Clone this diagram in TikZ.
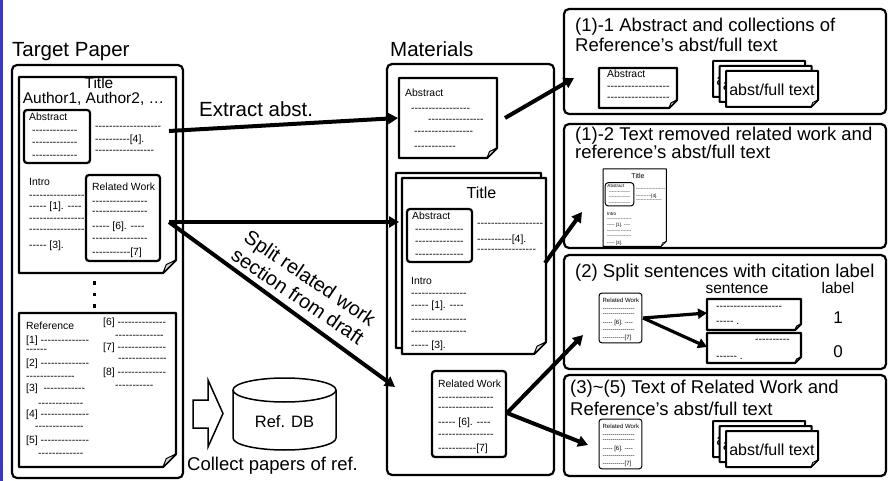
\documentclass[tikz,border=0pt]{standalone}
\usepackage{fontspec}
\setmainfont{Liberation Sans}
\usetikzlibrary{arrows.meta}
\ExplSyntaxOn
\cs_new:Npn \hyl #1 {\prg_replicate:nn{#1}{-\kern0pt\relax}}
\ExplSyntaxOff
\definecolor{barblue}{RGB}{58,58,190}
\tikzset{
  obox/.style={line width=2.2pt, rounded corners=5pt},
  sm/.style={font=\fontsize{10.4}{12}\selectfont, anchor=base west, inner sep=0pt},
  big/.style={font=\fontsize{20.5}{24}\selectfont, anchor=base west, inner sep=0pt},
  ttl/.style={font=\fontsize{18.5}{22}\selectfont, anchor=base west, inner sep=0pt},
  arr/.style={line width=4pt, -{Triangle[length=10pt,width=11pt]}},
  sarr/.style={line width=3.2pt, -{Triangle[length=9pt,width=10pt]}},
}
% #1 lw, #2 x1, #3 y1, #4 x2, #5 y2, #6 d, #7 flap lw
\newcommand\dogpage[7]{%
  \filldraw[line width=#1, line join=round, fill=white] (#2,#3) -- (#4,#3) -- (#4,#5-#6) -- (#4-#6,#5) -- (#2,#5) -- cycle;
  \filldraw[line width=#7, line join=round, fill=gray!30] (#4,#5-#6) -- (#4-#6,#5) -- (#4-0.75*#6,#5-0.65*#6) -- cycle;
}
\newcommand\titlepg[3]{%
  \dogpage{#2}{0}{0}{144}{176}{12}{#3}
  \draw[line width=#2, rounded corners=3pt] (5,31) rectangle (70,84);
  \node[sm, name=#1t, font=\fontsize{16}{18}\selectfont, anchor=base] at (79.5,21) {Title};
  \node[sm, name=#1a] at (10,42) {Abstract};
  \node[sm, name=#1b] at (13,55) {\hyl{14}};
  \node[sm, name=#1c] at (13,66) {\hyl{14}};
  \node[sm, name=#1d] at (13,80) {\hyl{14}};
  \node[sm, name=#1e] at (75,49) {\hyl{19}};
  \node[sm, name=#1f] at (75,64.5) {\hyl{10}[4].};
  \node[sm, name=#1g] at (75,75) {\hyl{17}};
  \node[sm, name=#1h] at (9,106) {Intro};
  \node[sm, name=#1i] at (9,118) {\hyl{16}};
  \node[sm, name=#1j] at (9,130.5) {\hyl{5} [1]. \hyl{4}};
  \node[sm, name=#1k] at (9,144) {\hyl{16}};
  \node[sm, name=#1l] at (9,156) {\hyl{16}};
  \node[sm, name=#1m] at (9,170.5) {\hyl{5} [3].};
}
\newcommand\rwpg[2]{%
  \draw[line width=#2, rounded corners=3pt, fill=white] (0,0) rectangle (74,86);
  \node[sm, name=#1a] at (6,16) {Related Work};
  \node[sm, name=#1b] at (6,29.5) {\hyl{16}};
  \node[sm, name=#1c] at (6,39.5) {\hyl{16}};
  \node[sm, name=#1d] at (6,54.5) {\hyl{5} [6]. \hyl{4}};
  \node[sm, name=#1e] at (6,66) {\hyl{16}};
  \node[sm, name=#1f] at (6,80.5) {\hyl{11}[7]};
}
\newcommand\stk[1]{%
  \foreach \k/\n in {0/a,1/b,2/c}{%
    \begin{scope}[shift={(6.5*\k,5*\k)}]
      \dogpage{2pt}{0}{0}{92}{36}{7}{0.8pt}
      \node[name=#1\n, font=\fontsize{16}{18}\selectfont, inner sep=0pt] at (46,18.5) {abst/full text};
    \end{scope}}%
}
\begin{document}
\begin{tikzpicture}[x=1pt,y=-1pt]
\useasboundingbox (0,0) rectangle (889,481);
\fill[barblue] (0,0) rectangle (3,481);

% headings
\node[big, name=hTP] at (12,57) {Target Paper};
\node[big, name=hMat] at (390,57) {Materials};

% outer boxes
\draw[obox] (12,65) rectangle (183,478);
\draw[obox] (387,64) rectangle (554,475);
\draw[obox] (564,9) rectangle (886,114);
\draw[obox] (564,124) rectangle (886,248);
\draw[obox] (564,255) rectangle (886,369);
\draw[obox] (564,375) rectangle (886,476);

% ---------- target paper page ----------
\dogpage{2.2pt}{19}{77}{176}{273}{13}{1pt}
\node[name=tpT, font=\fontsize{15.5}{18}\selectfont, anchor=base, inner sep=0pt] at (99,89) {Title};
\node[name=tpA, font=\fontsize{15.5}{18}\selectfont, anchor=base, inner sep=0pt] at (93.5,104) {Author1, Author2, …};
\draw[line width=2.2pt, rounded corners=3pt] (24,110) rectangle (90,163);
\node[sm, name=tp1] at (29,121) {Abstract};
\node[sm, name=tp2] at (32,134) {\hyl{13}};
\node[sm, name=tp3] at (32,146) {\hyl{13}};
\node[sm, name=tp4] at (32,159) {\hyl{13}};
\node[sm, name=tp5] at (95,130) {\hyl{19}};
\node[sm, name=tp6] at (95,143) {\hyl{10}[4].};
\node[sm, name=tp7] at (95,154) {\hyl{17}};
\node[sm, name=tp8] at (29,186) {Intro};
\node[sm, name=tp9] at (29,199) {\hyl{16}};
\node[sm, name=tp10] at (29,209.5) {\hyl{5} [1]. \hyl{4}};
\node[sm, name=tp11] at (29,222) {\hyl{16}};
\node[sm, name=tp12] at (29,233) {\hyl{16}};
\node[sm, name=tp13] at (29,248.5) {\hyl{5} [3].};
\begin{scope}[shift={(86,175)}]
  \rwpg{tr}{2.2pt}
\end{scope}

% dots
\fill (92.5,281) rectangle (96,284.5);
\fill (92.5,292.5) rectangle (96,296);
\fill (92.5,304) rectangle (96,307.5);

% ---------- reference page ----------
\dogpage{2.2pt}{19}{313}{176}{467}{13}{1pt}
\node[sm, name=rf0] at (26,329) {Reference};
\node[sm, name=rf1] at (26,343.5) {[1] \hyl{14}};
\node[sm, name=rf1b] at (26,352) {\hyl{6}};
\node[sm, name=rf2] at (26,366.5) {[2] \hyl{14}};
\node[sm, name=rf2b] at (26,379) {\hyl{14}};
\node[sm, name=rf3] at (26,391.5) {[3]\ \ \hyl{12}};
\node[sm, name=rf3b] at (38,406) {\hyl{13}};
\node[sm, name=rf4] at (26,417.5) {[4] \hyl{14}};
\node[sm, name=rf4b] at (35,429) {\hyl{14}};
\node[sm, name=rf5] at (26,443.5) {[5] \hyl{14}};
\node[sm, name=rf5b] at (38,456) {\hyl{13}};
\node[sm, name=rf6] at (103,325.5) {[6] \hyl{14}};
\node[sm, name=rf6b] at (115,338) {\hyl{14}};
\node[sm, name=rf7] at (103,350.5) {[7] \hyl{14}};
\node[sm, name=rf7b] at (118,361) {\hyl{14}};
\node[sm, name=rf8] at (103,375.5) {[8] \hyl{14}};
\node[sm, name=rf8b] at (115,388) {\hyl{11}};

% ---------- block arrow and DB ----------
\draw[line width=1.5pt, line join=miter] (193,400) -- (208,400) -- (208,380) -- (223,413.5) -- (208,447) -- (208,428) -- (193,428) -- cycle;
\draw[line width=1.5pt, fill=white] (233,390) -- (233,438) .. controls (233,444.6) and (256.1,450) .. (284.5,450) .. controls (312.9,450) and (336,444.6) .. (336,438) -- (336,390);
\draw[line width=1.5pt, fill=white] (284.5,390) ellipse [x radius=51.5, y radius=12];
\node[name=db, font=\fontsize{16.5}{19}\selectfont, anchor=base, inner sep=0pt] at (284.5,427) {Ref. DB};
\node[name=coll, font=\fontsize{18.5}{22}\selectfont, anchor=base west, inner sep=0pt] at (187,470) {Collect papers of ref.};

% ---------- materials ----------
\dogpage{2.2pt}{399}{78}{497}{158}{10}{1pt}
\node[sm, name=ma1] at (405,96.5) {Abstract};
\node[sm, name=ma2] at (411,112) {\hyl{17}};
\node[sm, name=ma3] at (428,123) {\hyl{16}};
\node[sm, name=ma4] at (414,135) {\hyl{17}};
\node[sm, name=ma5] at (414,150) {\hyl{12}};
\dogpage{2.2pt}{396}{173}{541}{348}{12}{1pt}
\begin{scope}[shift={(402,178)}]
  \titlepg{mt}{2.2pt}{1pt}
\end{scope}
\begin{scope}[shift={(432,371)}]
  \rwpg{mr}{2.2pt}
\end{scope}

% ---------- box (1)-1 ----------
\node[ttl, name=b1a] at (575,32) {(1)-1 Abstract and collections of};
\node[ttl, name=b1b] at (575,52) {Reference’s abst/full text};
\dogpage{2.2pt}{599}{68}{677}{108}{8}{1pt}
\node[sm, name=b1c] at (607,78) {Abstract};
\node[sm, name=b1d] at (607,90) {\hyl{18}};
\node[sm, name=b1e] at (607,101) {\hyl{18}};
\begin{scope}[shift={(713,61)}]
  \stk{s1}
\end{scope}

% ---------- box (1)-2 ----------
\node[ttl, name=b2a] at (575,141) {(1)-2 Text removed related work and};
\node[ttl, name=b2b] at (575,159) {reference’s abst/full text};
\begin{scope}[shift={(603,169)}, scale=0.44, transform shape]
  \titlepg{m2}{1pt}{0.5pt}
\end{scope}

% ---------- box (2) ----------
\node[ttl, name=b3a] at (575,277) {(2) Split sentences with citation label};
\node[name=b3s, font=\fontsize{15.5}{18}\selectfont, anchor=base, inner sep=0pt] at (737,293) {sentence};
\node[name=b3l, font=\fontsize{15.5}{18}\selectfont, anchor=base, inner sep=0pt] at (838,293) {label};
\begin{scope}[shift={(599,293)}, scale=0.58, transform shape]
  \rwpg{m3}{1pt}
\end{scope}
\dogpage{2.2pt}{707}{299}{801}{330}{6}{1pt}
\node[sm, name=sb1a] at (716,309) {\hyl{19}};
\node[sm, name=sb1b] at (716,324) {\hyl{5} .};
\dogpage{2.2pt}{707}{333}{801}{363}{6}{1pt}
\node[sm, name=sb2a] at (755,342) {\hyl{10}};
\node[sm, name=sb2b] at (716,359) {\hyl{6} .};
\node[name=lab1, font=\fontsize{17}{20}\selectfont, anchor=base, inner sep=0pt] at (838,323) {1};
\node[name=lab0, font=\fontsize{17}{20}\selectfont, anchor=base, inner sep=0pt] at (838,357) {0};
\coordinate (m3out) at (643,318);
\coordinate (sb1in) at (707,313);
\coordinate (sb2in) at (707,347);
\draw[sarr] (m3out) -- (sb1in);
\draw[sarr] (m3out) -- (sb2in);

% ---------- box (3)~(5) ----------
\node[ttl, name=b4a] at (570,393) {(3)\textasciitilde(5) Text of Related Work and};
\node[ttl, name=b4b] at (570,415) {Reference’s abst/full text};
\begin{scope}[shift={(599,419)}, scale=0.58, transform shape]
  \rwpg{m4}{1pt}
\end{scope}
\begin{scope}[shift={(713,421)}]
  \stk{s4}
\end{scope}

% ---------- main arrows ----------
\coordinate (tpAbs) at (169,131);
\coordinate (tpRW) at (169,222);
\coordinate (maIn) at (398,118);
\coordinate (mtIn) at (399,222);
\coordinate (mrIn) at (395,387);
\coordinate (maOut) at (505,118);
\coordinate (mtOut) at (545,263);
\coordinate (mrOut) at (507,413);
\coordinate (b1In) at (574,78);
\coordinate (b2In) at (582,212);
\coordinate (b3In) at (583,335);
\coordinate (b4In) at (588,445);
\draw[arr] (tpAbs) -- (maIn);
\draw[arr] (tpRW) -- (mtIn);
\draw[arr] (tpRW) -- (mrIn);
\draw[arr] (maOut) -- (b1In);
\draw[arr] (mtOut) -- (b2In);
\draw[arr] (mrOut) -- (b3In);
\draw[arr] (mrOut) -- (b4In);
\node[big, name=ext] at (199,117) {Extract abst.};
\node[name=split, font=\fontsize{20}{22}\selectfont, align=center, rotate=-34, inner sep=0pt] at (304,287) {Split related work\\section from draft};
\end{tikzpicture}
\end{document}
